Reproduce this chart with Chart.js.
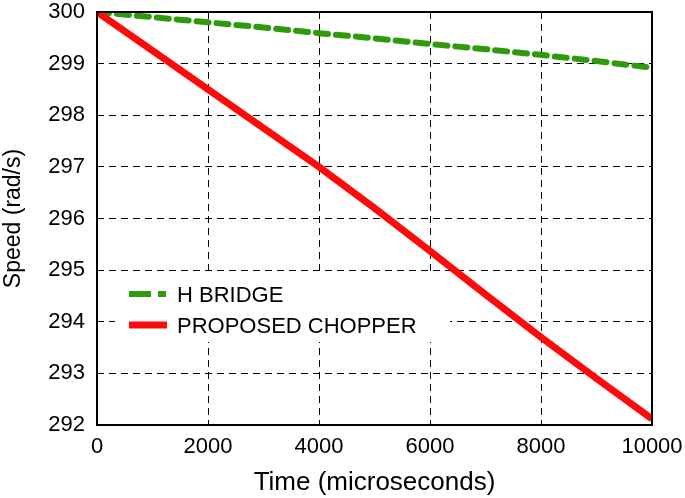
<!DOCTYPE html>
<html>
<head>
<meta charset="utf-8">
<script src="https://cdn.jsdelivr.net/npm/chart.js@4.4.0/dist/chart.umd.min.js"></script>
<style>
  html, body { margin: 0; padding: 0; background: #fff; }
  #wrap { width: 685px; height: 498px; }
</style>
</head>
<body>
<div id="wrap"><canvas id="myChart" width="685" height="498"></canvas></div>
<script>
// time axis (microseconds)
const times = [0, 1000, 2000, 3000, 4000, 5000, 6000, 7000, 8000, 9000, 10000];
// speed, rad/s
const hBridge = [300, 299.9, 299.8, 299.7, 299.59, 299.49, 299.38, 299.28, 299.17, 299.05, 298.92];
const chopper = [300, 299.25, 298.5, 297.75, 297.0, 296.2, 295.37, 294.53, 293.7, 292.9, 292.12];
const xTicks = [0, 2000, 4000, 6000, 8000, 10000];
const yTicks = [292, 293, 294, 295, 296, 297, 298, 299, 300];
const seriesNames = ["H BRIDGE", "PROPOSED CHOPPER"];

const FONT = "'Liberation Sans', Arial, sans-serif";
const GREEN = "#2f9a0c";
const RED = "#ff0a0a";

function toPoints(vals) {
    return times.map((t, i) => ({ x: t, y: vals[i] }));
}

// white legend box drawn before the lines, text/samples after
const boxAndLegend = {
    id: "boxAndLegend",
    beforeDatasetsDraw(chart) {
        const { ctx } = chart;
        ctx.save();
        ctx.fillStyle = "#fff";
        ctx.fillRect(115, 274, 335, 68);
        ctx.restore();
    },
    afterDraw(chart) {
        const { ctx, chartArea: a } = chart;
        ctx.save();
        ctx.strokeStyle = "#000";
        ctx.lineWidth = 2;
        ctx.setLineDash([]);
        ctx.strokeRect(a.left, a.top, a.right - a.left, a.bottom - a.top);

        // legend samples
        ctx.lineCap = "butt";
        ctx.lineWidth = 6;
        ctx.strokeStyle = GREEN;
        ctx.setLineDash([22, 7, 8, 100]);
        ctx.beginPath();
        ctx.moveTo(129, 294);
        ctx.lineTo(166, 294);
        ctx.stroke();

        ctx.setLineDash([]);
        ctx.lineWidth = 7;
        ctx.strokeStyle = RED;
        ctx.beginPath();
        ctx.moveTo(129, 325);
        ctx.lineTo(167, 325);
        ctx.stroke();

        ctx.fillStyle = "#000";
        ctx.font = "22px " + FONT;
        ctx.textBaseline = "middle";
        ctx.fillText(seriesNames[0], 177, 296);
        ctx.fillText(seriesNames[1], 177, 327);
        ctx.restore();
    }
};

const ctx = document.getElementById("myChart");

new Chart(ctx, {
    type: "line",
    data: {
        datasets: [
            {
                label: seriesNames[1],
                data: toPoints(chopper),
                borderColor: RED,
                borderWidth: 7,
                pointRadius: 0,
                fill: false,
                order: 0,
            },
            {
                label: seriesNames[0],
                data: toPoints(hBridge),
                borderColor: GREEN,
                borderWidth: 6,
                borderDash: [12, 8],
                borderCapStyle: "round",
                pointRadius: 0,
                fill: false,
                order: 1,
            },
        ],
    },
    options: {
        responsive: false,
        animation: false,
        layout: { padding: { top: 12, right: 33, left: 0, bottom: 0 } },
        plugins: {
            legend: { display: false },
            tooltip: { enabled: false },
        },
        scales: {
            x: {
                type: "linear",
                min: 0,
                max: 10000,
                afterBuildTicks: (s) => { s.ticks = xTicks.map(v => ({ value: v })); },
                afterFit: (s) => {
                    s.height = 73;
                    s.paddingLeft = 0;
                    s.paddingRight = 0;
                },
                ticks: {
                    color: "#000",
                    font: { family: FONT, size: 22 },
                    padding: 9,
                    maxRotation: 0,
                    callback: (v) => String(v),
                },
                grid: { color: "#000", lineWidth: 1, drawTicks: false },
                border: { display: false, dash: [7, 5] },
                title: {
                    display: true,
                    text: "Time (microseconds)",
                    color: "#000",
                    font: { family: FONT, size: 26 },
                    padding: { top: 3, bottom: 0 },
                },
            },
            y: {
                type: "linear",
                min: 292,
                max: 300,
                afterBuildTicks: (s) => { s.ticks = yTicks.map(v => ({ value: v })); },
                afterFit: (s) => {
                    s.width = 97;
                    s.paddingTop = 0;
                    s.paddingBottom = 0;
                },
                ticks: {
                    color: "#000",
                    font: { family: FONT, size: 22 },
                    padding: 12,
                    callback: (v) => String(v),
                },
                grid: { color: "#000", lineWidth: 1, drawTicks: false },
                border: { display: false, dash: [7, 5] },
                title: {
                    display: true,
                    text: "Speed (rad/s)",
                    color: "#000",
                    font: { family: FONT, size: 23 },
                    padding: { top: 0, bottom: 2 },
                },
            },
        },
    },
    plugins: [boxAndLegend],
});
</script>
</body>
</html>
